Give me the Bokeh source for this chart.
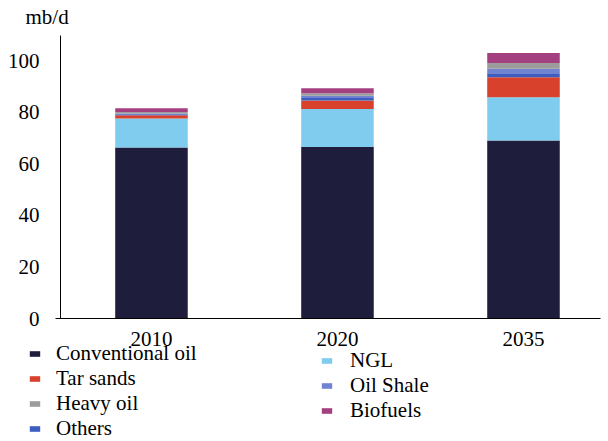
from bokeh.plotting import figure
from bokeh.models import Range1d, FixedTicker, Legend, LegendItem, Label, ColumnDataSource
from bokeh.embed import file_html
from bokeh.resources import INLINE

# ---- data (mb/d) ----
years = ["2010", "2020", "2035"]
conventional_oil = [66.3, 66.5, 69.0]
ngl = [11.2, 14.7, 16.8]
tar_sands = [1.3, 3.3, 7.7]
others = [0.4, 1.0, 1.6]
oil_shale = [0.3, 0.8, 1.7]
heavy_oil = [0.5, 1.0, 2.2]
biofuels = [1.5, 1.9, 3.9]
y_ticks = [0, 20, 40, 60, 80, 100]

# stacking order bottom -> top
stack_keys = ["conv", "ngl", "tar", "others", "shale", "heavy", "bio"]
stack_names = ["Conventional oil", "NGL", "Tar sands", "Others", "Oil Shale", "Heavy oil", "Biofuels"]
stack_colors = ["#1f1d3c", "#80ccef", "#d8412b", "#3d5ec0", "#7084d2", "#9c9c9c", "#a4407f"]

x_pos = list(range(len(years)))
source = ColumnDataSource(dict(
    x=x_pos, conv=conventional_oil, ngl=ngl, tar=tar_sands, others=others,
    shale=oil_shale, heavy=heavy_oil, bio=biofuels,
))

FONT = "Liberation Serif"
FS = "21px"

# frame covers the whole canvas; axes are placed with fixed_location
X0, X1 = -0.8116, 2.457
Y0, Y1 = -47.67, 123.26
AXIS_X = -0.489      # where the y axis sits
Y_TOP = 109.7        # top of the y axis line

p = figure(width=608, height=441, output_backend="svg", toolbar_location=None,
           x_range=Range1d(X0, X1), y_range=Range1d(Y0, Y1),
           min_border_left=0, min_border_right=0, min_border_top=0, min_border_bottom=0)
p.outline_line_color = None
p.grid.grid_line_color = None

renderers = p.vbar_stack(stack_keys, x="x", width=0.39, source=source,
                         color=stack_colors, line_color=None)
rmap = dict(zip(stack_names, renderers))

# axes
p.xaxis.fixed_location = 0
p.xaxis.bounds = (-0.516, 2.414)
p.xaxis.ticker = FixedTicker(ticks=x_pos)
p.xaxis.major_label_overrides = {i: y for i, y in enumerate(years)}
p.yaxis.fixed_location = AXIS_X
p.yaxis.bounds = (0, Y_TOP)
p.yaxis.ticker = FixedTicker(ticks=y_ticks)
for ax in (p.xaxis[0], p.yaxis[0]):
    ax.axis_line_color = "black"
    ax.axis_line_width = 1
    ax.major_tick_line_color = None
    ax.minor_tick_line_color = None
    ax.major_label_text_font = FONT
    ax.major_label_text_font_size = FS
    ax.major_label_text_color = "black"
p.yaxis.major_label_standoff = 15
p.xaxis.major_label_standoff = 7

# unit label
p.add_layout(Label(x=-0.677, y=116.7, text="mb/d", text_font=FONT, text_font_size=FS,
                   text_baseline="middle", text_align="left", text_color="black"))

# legends (two columns)
col1 = ["Conventional oil", "Tar sands", "Heavy oil", "Others"]
col2 = ["NGL", "Oil Shale", "Biofuels"]

def make_legend(names, loc, lh, standoff):
    return Legend(items=[LegendItem(label=n, renderers=[rmap[n]]) for n in names],
                  location=loc, orientation="vertical",
                  glyph_width=13, glyph_height=7, label_standoff=standoff,
                  label_height=lh, spacing=0, padding=0, margin=0,
                  border_line_color=None, background_fill_alpha=0,
                  label_text_font=FONT, label_text_font_size=FS, label_text_color="black")

p.add_layout(make_legend(col1, (28, 0), 24, 15), "center")
p.add_layout(make_legend(col2, (320, 18), 25, 17), "center")

open("out.html", "w").write(file_html(p, INLINE))
